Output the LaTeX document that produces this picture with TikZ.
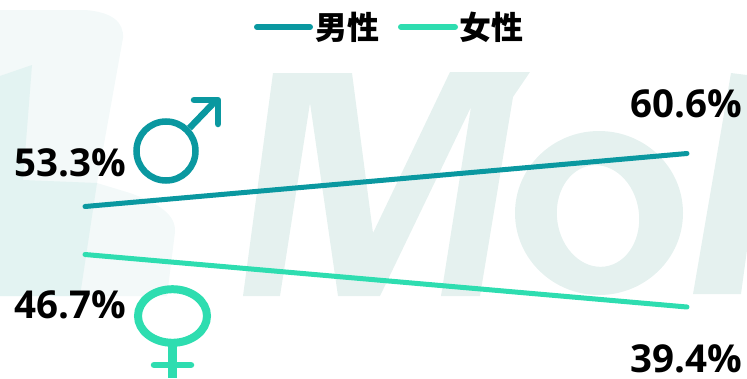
\documentclass[tikz,border=0pt]{standalone}
\usepackage{fontspec}
\setmainfont{Open Sans}
\newfontfamily\cjkbold{Noto Sans CJK SC}
\definecolor{maleC}{HTML}{0A98A0}
\definecolor{femaleC}{HTML}{2EDDB0}
\definecolor{wmMain}{HTML}{E5F1EF}
\definecolor{wmPale}{HTML}{F3F9F9}
\definecolor{wmDeep}{HTML}{E3F3F2}
\tikzset{
  x=1pt,y=-1pt,
  pct/.style={font=\fontsize{38.5}{40}\selectfont\bfseries,text=black,inner sep=0pt,anchor=base east},
  legendtxt/.style={font=\cjkbold\fontsize{32}{34}\selectfont\bfseries,text=black,inner sep=0pt,anchor=center},
  maleln/.style={draw=maleC,line width=5pt,line cap=round},
  femaleln/.style={draw=femaleC,line width=5pt,line cap=round},
}
\begin{document}
\begin{tikzpicture}
\useasboundingbox (0,0) rectangle (747,378);
% watermark
\fill[wmPale] (0,10) -- (85,10) .. controls (112,12) and (124,22) .. (123,38) -- (97,183) -- (130,193) .. controls (160,204) and (176,215) .. (175,232) -- (167,296) -- (0,296) -- cycle;
\fill[wmDeep] (0,76) -- (32,65) -- (23,180) -- (97,183) -- (80,296) -- (0,296) -- cycle;
\fill[wmMain] (243,296) -- (273,73) -- (352,73) -- (373,233) -- (450,72) -- (530,72) -- (513,97) -- (480,296) -- (441,296) -- (471,107) -- (380,296) -- (338,296) -- (310,103) -- (280,296) -- cycle;
\begin{scope}
  \clip (0,0) rectangle (747,296);
  \fill[wmMain,even odd rule] (599,213) ellipse [x radius=84,y radius=82]
     (598,216) [rotate around={8:(598,216)}] ellipse [x radius=41,y radius=51];
\end{scope}
\fill[wmMain] (731,73) -- (747,75) -- (747,250) -- (741,294) -- (693,294) -- cycle;
% legend
\coordinate (ml1) at (257,27); \coordinate (ml2) at (310,27);
\coordinate (fl1) at (401,27); \coordinate (fl2) at (455,27);
\draw[maleln,line width=6pt] (ml1) -- (ml2);
\draw[femaleln,line width=6pt] (fl1) -- (fl2);
\node[legendtxt] (lm) at (347,27) {男性};
\node[legendtxt] (lf) at (491,27) {女性};
% series lines
\coordinate (m1) at (85,206.5); \coordinate (m2) at (687,153.5);
\coordinate (f1) at (85,254.5); \coordinate (f2) at (687,307);
\draw[maleln] (m1) -- (m2);
\draw[femaleln] (f1) -- (f2);
% male symbol
\draw[maleC,line width=6.5pt] (166,151) circle [radius=29.5];
\draw[maleC,line width=6.5pt] (189.5,128) -- (216,100.5);
\draw[maleC,line width=6.5pt,line cap=round,line join=round] (194,100) -- (218,100) -- (218,124);
% female symbol
\draw[femaleC,line width=8pt] (172.5,316) ellipse [x radius=34.5,y radius=26.8];
\draw[femaleC,line width=8.5pt] (172.5,343) -- (172.5,378);
\draw[femaleC,line width=6.5pt,line cap=round] (154,365) -- (191,365);
% labels
\node[pct] (a) at (126,176.5) {53.3\%};
\node[pct] (b) at (126,318) {46.7\%};
\node[pct] (c) at (742,117.5) {60.6\%};
\node[pct] (d) at (742,372.5) {39.4\%};
\end{tikzpicture}
\end{document}
